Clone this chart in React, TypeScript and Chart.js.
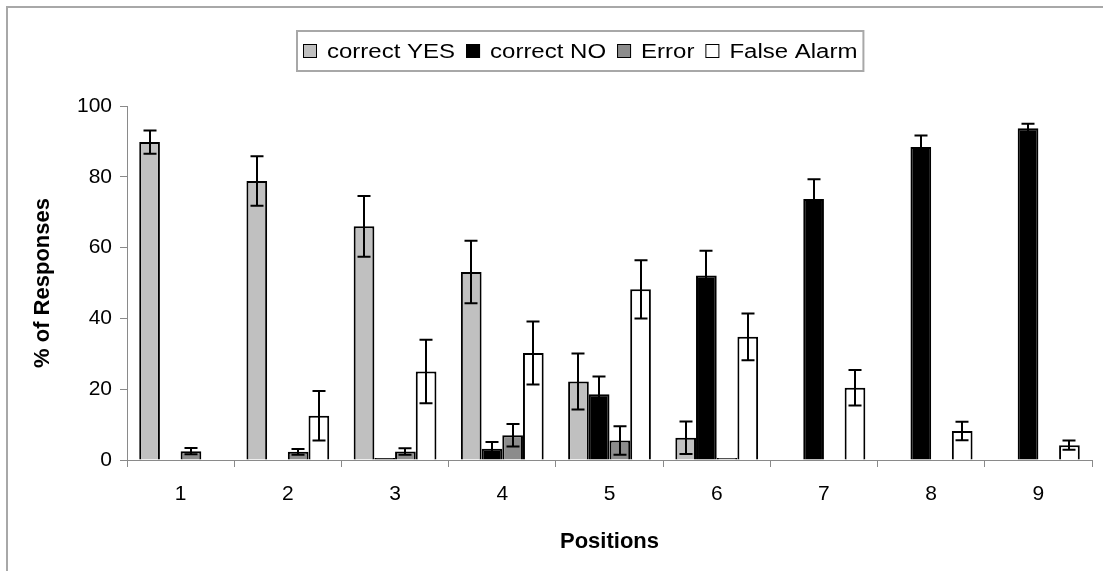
import React, { useEffect, useRef } from "react";
import { Chart, registerables } from "chart.js";

Chart.register(...registerables);

const categories = ["1", "2", "3", "4", "5", "6", "7", "8", "9"];
const seriesLabels = ["correct YES", "correct NO", "Error", "False Alarm"];
const seriesColors = ["#c0c0c0", "#000000", "#8c8c8c", "#ffffff"];

const correctYes = [89.8, 78.8, 66.0, 53.1, 22.2, 6.3, 0, 0, 0];
const correctYesErr = [3.3, 7.0, 8.6, 8.8, 7.9, 4.6, 0, 0, 0];
const correctNo = [0, 0, 0.6, 3.2, 18.6, 52.1, 73.7, 88.4, 93.7];
const correctNoErr = [0, 0, 0, 1.9, 5.0, 7.0, 5.6, 3.3, 1.3];
const errorResp = [2.5, 2.3, 2.4, 7.0, 5.5, 0.6, 0, 0, 0];
const errorRespErr = [0.9, 0.8, 0.9, 3.2, 4.0, 0, 0, 0, 0];
const falseAlarm = [0, 12.5, 25.0, 30.2, 48.2, 34.8, 20.4, 8.2, 4.2];
const falseAlarmErr = [0, 7.0, 9.0, 8.9, 8.2, 6.6, 5.0, 2.6, 1.3];

const yMin = 0;
const yMax = 100;
const yStep = 20;

const xTitle = "Positions";
const yTitle = "% of Responses";

const FONT = '"Liberation Sans", Arial, Helvetica, sans-serif';

const errorBarPlugin = {
  id: "errorBars",
  afterDatasetsDraw(chart: any) {
    const ctx = chart.ctx;
    const yScale = chart.scales.y;
    ctx.save();
    ctx.strokeStyle = "#000";
    ctx.lineWidth = 2;
    chart.data.datasets.forEach((ds: any, d: number) => {
      const meta = chart.getDatasetMeta(d);
      meta.data.forEach((el: any, j: number) => {
        const v = ds.data[j];
        const e = ds.errors ? ds.errors[j] : 0;
        if (!e) return;
        const x = Math.round(el.x);
        const yt = yScale.getPixelForValue(v + e);
        const yb = yScale.getPixelForValue(Math.max(0, v - e));
        const cap = 6.5;
        ctx.beginPath();
        ctx.moveTo(x, yt);
        ctx.lineTo(x, yb);
        ctx.moveTo(x - cap, yt);
        ctx.lineTo(x + cap, yt);
        ctx.moveTo(x - cap, yb);
        ctx.lineTo(x + cap, yb);
        ctx.stroke();
      });
    });
    ctx.restore();
  },
};

const frameLegendPlugin = {
  id: "frameLegend",
  beforeDraw(chart: any) {
    const ctx = chart.ctx;
    ctx.save();
    ctx.fillStyle = "#fff";
    ctx.fillRect(0, 0, chart.width, chart.height);
    ctx.strokeStyle = "#a8a8a8";
    ctx.lineWidth = 2;
    ctx.beginPath();
    ctx.moveTo(7, chart.height + 2);
    ctx.lineTo(7, 7);
    ctx.lineTo(chart.width + 2, 7);
    ctx.stroke();
    ctx.restore();
  },
  afterDraw(chart: any) {
    const ctx = chart.ctx;
    const stretch = 1.2;
    const boxLeft = 297;
    const boxTop = 31;
    const boxH = 40;
    const sq = 14;
    const midY = boxTop + boxH / 2;
    ctx.save();
    ctx.font = `20px ${FONT}`;
    ctx.textBaseline = "middle";
    ctx.textAlign = "left";
    let x = boxLeft + 6;
    const items: { x: number; label: string; color: string; w: number }[] = [];
    chart.data.datasets.forEach((ds: any) => {
      const w = ctx.measureText(ds.label).width * stretch;
      items.push({ x, label: ds.label, color: ds.backgroundColor, w });
      x += sq + 10 + w + 11;
    });
    const boxRight = x - 11 + 6;
    ctx.strokeStyle = "#a8a8a8";
    ctx.lineWidth = 2;
    ctx.strokeRect(boxLeft, boxTop, boxRight - boxLeft, boxH);
    items.forEach((it) => {
      ctx.fillStyle = it.color;
      ctx.fillRect(it.x, midY - sq / 2, sq, sq);
      ctx.strokeStyle = "#000";
      ctx.lineWidth = 1;
      ctx.strokeRect(it.x + 0.5, midY - sq / 2 + 0.5, sq - 1, sq - 1);
      ctx.fillStyle = "#000";
      ctx.save();
      ctx.translate(it.x + sq + 10, midY + 1);
      ctx.scale(stretch, 1);
      ctx.fillText(it.label, 0, 0);
      ctx.restore();
    });
    ctx.restore();
  },
};

export default function App() {
  const canvasRef = useRef<HTMLCanvasElement | null>(null);

  useEffect(() => {
    if (!canvasRef.current) return;
    const seriesData = [correctYes, correctNo, errorResp, falseAlarm];
    const seriesErr = [correctYesErr, correctNoErr, errorRespErr, falseAlarmErr];
    const chart = new Chart(canvasRef.current, {
      type: "bar",
      data: {
        labels: categories,
        datasets: seriesLabels.map((label, i) => ({
          label,
          data: seriesData[i],
          errors: seriesErr[i],
          backgroundColor: seriesColors[i],
          borderColor: "#000",
          borderWidth: 2,
          borderSkipped: "start",
          barPercentage: 1,
          categoryPercentage: 0.772,
        })) as any,
      },
      options: {
        responsive: false,
        animation: false,
        devicePixelRatio: 1,
        layout: { padding: { top: 106, right: 11, bottom: 0, left: 0 } },
        plugins: {
          legend: { display: false },
          tooltip: { enabled: false },
          title: { display: false },
        },
        scales: {
          x: {
            grid: {
              display: true,
              drawOnChartArea: false,
              drawTicks: true,
              tickLength: 7,
              color: "#8a8a8a",
              offset: true,
            },
            border: { display: true, color: "#8a8a8a", width: 1 },
            ticks: {
              font: { family: FONT, size: 21 },
              color: "#000",
              padding: 15,
              maxRotation: 0,
            },
            title: {
              display: true,
              text: xTitle,
              font: { family: FONT, size: 22, weight: "bold" },
              color: "#000",
              padding: { top: 0, bottom: 16 },
            },
            afterFit: (s: any) => {
              s.height = 111;
            },
          },
          y: {
            min: yMin,
            max: yMax,
            grid: {
              display: true,
              drawOnChartArea: false,
              drawTicks: true,
              tickLength: 7,
              color: "#8a8a8a",
            },
            border: { display: true, color: "#8a8a8a", width: 1 },
            ticks: {
              stepSize: yStep,
              font: { family: FONT, size: 21 },
              color: "#000",
              padding: 8,
            },
            title: {
              display: true,
              text: yTitle,
              font: { family: FONT, size: 22, weight: "bold" },
              color: "#000",
              padding: { top: 30, bottom: 0 },
            },
            afterFit: (s: any) => {
              s.width = 127;
            },
          },
        },
      } as any,
      plugins: [frameLegendPlugin, errorBarPlugin],
    });
    return () => chart.destroy();
  }, []);

  return (
    <div style={{ position: "absolute", left: 0, top: 0, width: 1103, height: 571, background: "#fff" }}>
      <canvas
        ref={canvasRef}
        width={1103}
        height={571}
        style={{ display: "block", width: 1103, height: 571 }}
      />
    </div>
  );
}
